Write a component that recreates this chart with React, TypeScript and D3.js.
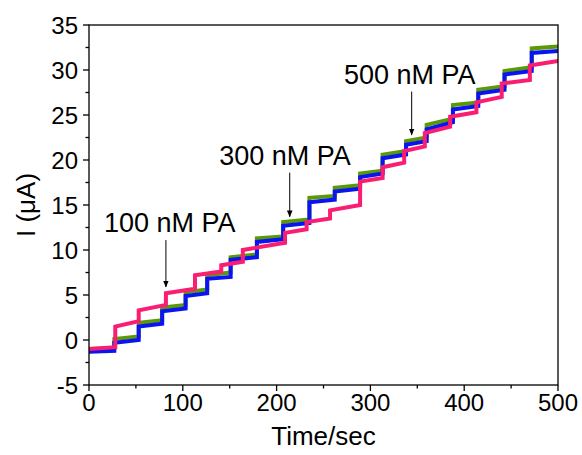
import React from 'react';
import * as d3 from 'd3';

// Step (injection) times in seconds for the blue/green traces
const stepTimes = [0, 27, 53, 78, 103, 126, 151, 179, 207, 235, 262, 289, 313, 338, 360, 388, 415, 443, 472];
const blueStart = [-1.3, -0.3, 1.5, 3.2, 4.9, 6.8, 8.9, 10.9, 12.7, 15.3, 16.5, 18.1, 20.2, 21.7, 23.4, 25.6, 27.4, 29.5, 31.9];
const blueEnd = [-1.2, 0.0, 1.8, 3.5, 5.2, 7.0, 9.2, 11.2, 13.0, 15.6, 16.8, 18.5, 20.6, 22.1, 24.2, 26.0, 27.8, 29.9, 32.1];
const greenStart = [-1.0, 0.1, 1.9, 3.6, 5.3, 7.2, 9.2, 11.3, 13.1, 15.8, 16.9, 18.5, 20.6, 22.1, 23.9, 26.1, 27.8, 29.9, 32.4];
const greenEnd = [-0.9, 0.4, 2.2, 3.9, 5.6, 7.5, 9.5, 11.5, 13.4, 16.0, 17.2, 18.8, 21.0, 22.5, 24.6, 26.4, 28.2, 30.3, 32.6];

// Pink trace has its own step times
const pinkTimes = [0, 28, 53, 82, 113, 141, 164, 209, 232, 257, 289, 313, 336, 358, 385, 413, 440, 470];
const pinkStart = [-1.0, 1.5, 3.3, 5.2, 7.2, 8.3, 10.0, 11.9, 13.1, 14.4, 17.6, 19.2, 21.0, 23.0, 24.8, 26.4, 28.5, 30.5];
const pinkEnd = [-0.8, 2.1, 3.9, 5.7, 7.6, 8.7, 10.8, 12.3, 13.5, 15.0, 18.0, 19.7, 21.5, 23.7, 25.3, 27.0, 28.9, 31.0];

const xTicks = [0, 100, 200, 300, 400, 500];
const xMinor = [50, 150, 250, 350, 450];
const yTicks = [-5, 0, 5, 10, 15, 20, 25, 30, 35];
const yMinor = [-2.5, 2.5, 7.5, 12.5, 17.5, 22.5, 27.5, 32.5];

const annLabels = ['100 nM PA', '300 nM PA', '500 nM PA'];
const annArrowT = [82, 214, 344];
const annTextT = [86, 209, 342];
const annTextY = [12.0, 19.4, 28.4];
const annFrom = [11.1, 18.6, 27.6];
const annTo = [5.9, 13.7, 22.8];

const W = 582;
const H = 455;
const font = '"Liberation Sans", Arial, sans-serif';

function buildPoints(times: number[], starts: number[], ends: number[], tEnd: number) {
  const pts: [number, number][] = [];
  for (let i = 0; i < times.length; i++) {
    const t0 = times[i];
    const t1 = i + 1 < times.length ? times[i + 1] : tEnd;
    pts.push([t0, starts[i]]);
    pts.push([t1, ends[i]]);
  }
  return pts;
}

export default function App() {
  const x = d3.scaleLinear().domain([0, 500]).range([89, 558]);
  const y = d3.scaleLinear().domain([-5, 35]).range([385, 25]);
  const line = d3
    .line<[number, number]>()
    .x((d) => x(d[0]))
    .y((d) => y(d[1]));

  const blue = buildPoints(stepTimes, blueStart, blueEnd, 500);
  const green = buildPoints(stepTimes, greenStart, greenEnd, 500);
  const pink = buildPoints(pinkTimes, pinkStart, pinkEnd, 500);

  const x0 = x(0), x1 = x(500), y0 = y(-5), y1 = y(35);

  return (
    <svg
      width={W}
      height={H}
      style={{ position: 'absolute', left: 0, top: 0, background: '#fff' }}
      fontFamily={font}
    >
      <defs>
        <clipPath id="plot">
          <rect x={x0} y={y1} width={x1 - x0} height={y0 - y1} />
        </clipPath>
        <marker id="arr" viewBox="0 0 10 10" refX="9" refY="5" markerWidth="7" markerHeight="9" orient="auto">
          <path d="M0,1 L10,5 L0,9 Z" fill="#000" />
        </marker>
      </defs>
      <rect x={0} y={0} width={W} height={H} fill="#fff" />
      <g clipPath="url(#plot)">
        <path d={line(green) || ''} fill="none" stroke="#5a9a08" strokeWidth={4} />
        <path d={line(blue) || ''} fill="none" stroke="#0a14f0" strokeWidth={4} />
        <path d={line(pink) || ''} fill="none" stroke="#fa1e72" strokeWidth={4} />
      </g>
      {/* frame */}
      <rect x={x0} y={y1} width={x1 - x0} height={y0 - y1} fill="none" stroke="#000" strokeWidth={1.3} />
      {/* x ticks */}
      {xTicks.map((t) => (
        <g key={'xt' + t}>
          <line x1={x(t)} x2={x(t)} y1={y0} y2={y0 + 6} stroke="#000" strokeWidth={1.3} />
          <text x={x(t)} y={y0 + 26} textAnchor="middle" fontSize={24} fill="#000">
            {t}
          </text>
        </g>
      ))}
      {xMinor.map((t) => (
        <line key={'xm' + t} x1={x(t)} x2={x(t)} y1={y0} y2={y0 + 3.5} stroke="#000" strokeWidth={1.3} />
      ))}
      {/* y ticks */}
      {yTicks.map((v) => (
        <g key={'yt' + v}>
          <line x1={x0 - 6} x2={x0} y1={y(v)} y2={y(v)} stroke="#000" strokeWidth={1.3} />
          <text x={x0 - 11} y={y(v) + 8.5} textAnchor="end" fontSize={24} fill="#000">
            {v}
          </text>
        </g>
      ))}
      {yMinor.map((v) => (
        <line key={'ym' + v} x1={x0 - 3.5} x2={x0} y1={y(v)} y2={y(v)} stroke="#000" strokeWidth={1.3} />
      ))}
      {/* axis titles */}
      <text x={(x0 + x1) / 2} y={445} textAnchor="middle" fontSize={26} fill="#000">
        Time/sec
      </text>
      <text
        transform={`translate(35, ${(y0 + y1) / 2}) rotate(-90)`}
        textAnchor="middle"
        fontSize={26}
        fill="#000"
      >
        I (μA)
      </text>
      {/* annotations */}
      {annLabels.map((label, i) => (
        <g key={label}>
          <text x={x(annTextT[i])} y={y(annTextY[i])} textAnchor="middle" fontSize={27} fill="#000">
            {label}
          </text>
          <line
            x1={x(annArrowT[i])}
            x2={x(annArrowT[i])}
            y1={y(annFrom[i])}
            y2={y(annTo[i])}
            stroke="#000"
            strokeWidth={1}
            markerEnd="url(#arr)"
          />
        </g>
      ))}
    </svg>
  );
}
